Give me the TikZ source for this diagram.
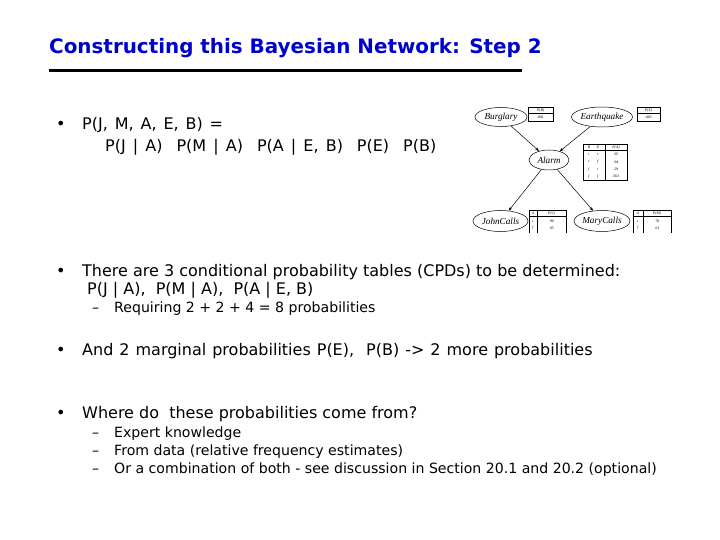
\documentclass[tikz,border=0pt]{standalone}
\usepackage{fontspec}
\setmainfont{DejaVu Sans}
\newfontfamily\netfont{Liberation Serif}
\usetikzlibrary{shapes.geometric,arrows.meta}
\definecolor{titleblue}{RGB}{0,0,204}
\begin{document}
\begin{tikzpicture}[x=1pt,y=-1pt,
  txt/.style={anchor=base west, inner sep=0pt, font=\fontsize{16}{19}\selectfont},
  subtxt/.style={anchor=base west, inner sep=0pt, font=\fontsize{14.1}{17}\selectfont},
  bnode/.style={ellipse, draw, line width=0.5pt, inner sep=0pt, font=\netfont\itshape\fontsize{9.2}{9}\selectfont},
  barrow/.style={-{Stealth[length=4pt,width=3pt]}, line width=0.5pt},
  tab/.style={draw, line width=0.6pt},
  tabtxt/.style={inner sep=0pt, font=\netfont\fontsize{3.8}{4}\selectfont}
]
\useasboundingbox[fill=white] (0,0) rectangle (720,540);

% title
\node[anchor=base west, inner sep=0pt, text=titleblue, font=\bfseries\fontsize{19.9}{23}\selectfont] (title) at (49,54) {Constructing this Bayesian Network: Step 2};
\coordinate (ulA) at (49,70.5);
\coordinate (ulB) at (522,70.5);
\draw[line width=3pt] (ulA) -- (ulB);

% bullet 1
\node[txt] (b1) at (56,130) {•};
\node[txt] (t1a) at (82,130) {\spaceskip=6.9pt P(J, M, A, E, B) =};
\node[txt] (t1b) at (105,152) {\spaceskip=7.1pt P(J | A)\hspace{14pt}P(M | A)\hspace{14pt}P(A | E, B)\hspace{14pt}P(E)\hspace{14pt}P(B)};

% bullet 2
\node[txt] (b2) at (56,276) {•};
\node[txt] (t2a) at (82,276) {There are 3 conditional probability tables (CPDs) to be determined:};
\node[txt] (t2b) at (87,294) {P(J | A),\ \ P(M | A),\ \ P(A | E, B)};
\node[subtxt] (d2) at (92,312) {–};
\node[subtxt] (t2c) at (114,312) {Requiring 2 + 2 + 4 = 8 probabilities};

% bullet 3
\node[txt] (b3) at (56,355) {•};
\node[txt] (t3) at (82,355) {\spaceskip=6pt And 2 marginal probabilities P(E),\hspace{12pt}P(B) -> 2 more probabilities};

% bullet 4
\node[txt] (b4) at (56,418) {•};
\node[txt] (t4) at (82,418) {Where do\ \ these probabilities come from?};
\node[subtxt] (d4a) at (92,437) {–};
\node[subtxt] (t4a) at (114,437) {Expert knowledge};
\node[subtxt] (d4b) at (92,455) {–};
\node[subtxt] (t4b) at (114,455) {From data (relative frequency estimates)};
\node[subtxt] (d4c) at (92,473) {–};
\node[subtxt] (t4c) at (114,473) {Or a combination of both - see discussion in Section 20.1 and 20.2 (optional)};

% Bayesian network figure
\begin{scope}
\clip (468,95) rectangle (676,232.5);
\node[bnode, minimum width=52pt, minimum height=19pt] (burg) at (501,117) {Burglary};
\node[bnode, minimum width=61pt, minimum height=20pt] (earth) at (602,117) {Earthquake};
\node[bnode, minimum width=40pt, minimum height=20pt] (alarm) at (549,160) {Alarm};
\node[bnode, minimum width=55pt, minimum height=21pt] (john) at (500.5,221) {JohnCalls};
\node[bnode, minimum width=56pt, minimum height=21pt] (mary) at (602,221) {MaryCalls};
\draw[barrow] (burg) -- (alarm);
\draw[barrow] (earth) -- (alarm);
\draw[barrow] (alarm) -- (john);
\draw[barrow] (alarm) -- (mary);

% P(B) table
\draw[tab] (528,107) rectangle (553,121);
\draw[line width=1pt] (528,113.5) -- (553,113.5);
\node[tabtxt] (pbh) at (540.5,110.5) {\itshape P(B)};
\node[tabtxt] (pbv) at (540.5,117.5) {.001};
% P(E) table
\draw[tab] (637,107) rectangle (660,121);
\draw[line width=1pt] (637,113.5) -- (660,113.5);
\node[tabtxt] (peh) at (648.5,110.5) {\itshape P(E)};
\node[tabtxt] (pev) at (648.5,117.5) {.002};
% P(A) table
\draw[line width=0.9pt] (583,144) rectangle (627,180);
\draw[line width=1pt] (583,150.5) -- (627,150.5);
\draw[line width=0.5pt] (605,144) -- (605,180);
\node[tabtxt] (pah1) at (589,147.3) {\itshape B};
\node[tabtxt] (pah2) at (598,147.3) {\itshape E};
\node[tabtxt] (pah3) at (616,147.3) {\itshape P(A)};
\node[tabtxt] (pa1a) at (589,154.6) {\itshape t};
\node[tabtxt] (pa1b) at (598,154.6) {\itshape t};
\node[tabtxt] (pa1c) at (616,154.6) {.95};
\node[tabtxt] (pa2a) at (589,161.9) {\itshape t};
\node[tabtxt] (pa2b) at (598,161.9) {\itshape f};
\node[tabtxt] (pa2c) at (616,161.9) {.94};
\node[tabtxt] (pa3a) at (589,169.1) {\itshape f};
\node[tabtxt] (pa3b) at (598,169.1) {\itshape t};
\node[tabtxt] (pa3c) at (616,169.1) {.29};
\node[tabtxt] (pa4a) at (589,176.4) {\itshape f};
\node[tabtxt] (pa4b) at (598,176.4) {\itshape f};
\node[tabtxt] (pa4c) at (616,176.4) {.001};
% P(J) table
\draw[tab] (529,210) rectangle (566,240);
\draw[line width=1pt] (529,216.5) -- (566,216.5);
\draw[line width=0.5pt] (537,210) -- (537,240);
\node[tabtxt] (pjh1) at (533,213.3) {\itshape A};
\node[tabtxt] (pjh2) at (551.5,213.3) {\itshape P(J)};
\node[tabtxt] (pj1a) at (533,221) {\itshape t};
\node[tabtxt] (pj1b) at (551.5,221) {.90};
\node[tabtxt] (pj2a) at (533,228) {\itshape f};
\node[tabtxt] (pj2b) at (551.5,228) {.05};
% P(M) table
\draw[tab] (633,210) rectangle (671,240);
\draw[line width=1pt] (633,216.5) -- (671,216.5);
\draw[line width=0.5pt] (643,210) -- (643,240);
\node[tabtxt] (pmh1) at (638,213.3) {\itshape A};
\node[tabtxt] (pmh2) at (657,213.3) {\itshape P(M)};
\node[tabtxt] (pm1a) at (638,221) {\itshape t};
\node[tabtxt] (pm1b) at (657,221) {.70};
\node[tabtxt] (pm2a) at (638,228) {\itshape f};
\node[tabtxt] (pm2b) at (657,228) {.01};
\end{scope}
\end{tikzpicture}
\end{document}
